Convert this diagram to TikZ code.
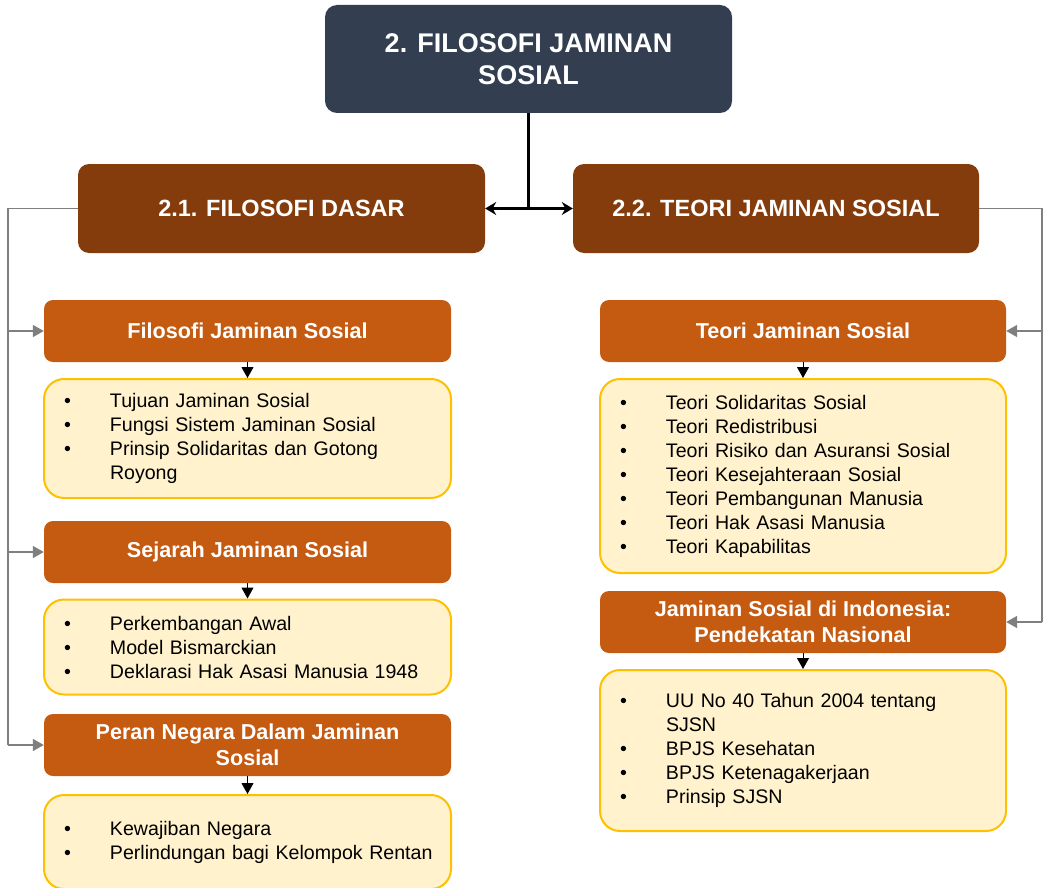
\documentclass[tikz,border=0pt]{standalone}
\usepackage{fontspec}
\setmainfont{Liberation Sans}
\usetikzlibrary{arrows.meta}
\definecolor{topc}{HTML}{333F50}
\definecolor{lvtwo}{HTML}{843C0C}
\definecolor{hdr}{HTML}{C55A11}
\definecolor{boxfill}{HTML}{FFF2CC}
\definecolor{boxline}{HTML}{FFC000}
\definecolor{conn}{HTML}{7F7F7F}
\newcommand{\bul}[1]{\mbox{\makebox[46pt][l]{\textbullet}#1}}
\newcommand{\ind}[1]{\mbox{\hspace*{46pt}#1}}
\begin{document}
\begin{tikzpicture}[x=1pt,y=-1pt,
  topbox/.style={rounded corners=12pt, fill=topc, text=white, align=center,
    minimum width=407pt, minimum height=108pt, inner sep=0pt,
    font=\fontsize{27}{32}\selectfont\bfseries},
  secbox/.style={rounded corners=11pt, fill=lvtwo, text=white, align=center,
    minimum height=89pt, inner sep=0pt,
    font=\fontsize{23.5}{28}\selectfont\bfseries},
  hdrbox/.style={rounded corners=9pt, fill=hdr, text=white, align=center,
    minimum width=407pt, minimum height=62pt, inner sep=0pt,
    font=\fontsize{21.6}{25.5}\selectfont\bfseries},
  listbox/.style={rounded corners=20pt, fill=boxfill, draw=boxline, line width=2pt,
    align=left, text width=367pt, inner xsep=20pt, inner ysep=0pt,
    font=\fontsize{19.6}{24}\selectfont},
  mainarrow/.style={line width=2.6pt, -{Stealth[length=11pt,width=13pt]}},
  mainline/.style={line width=2.6pt},
  sidearrow/.style={conn, line width=1.6pt, -{Triangle[length=11pt,width=12pt]}},
  sideline/.style={conn, line width=1.6pt},
  downarrow/.style={black, line width=1pt, -{Triangle[length=11pt,width=12pt]}}
]
\useasboundingbox (0,0) rectangle (1044,888);

% top
\node[topbox] (top) at (528.5,59) {2. FILOSOFI JAMINAN\\SOSIAL};
\node[secbox, minimum width=407pt] (L) at (281.5,208.5) {2.1. FILOSOFI DASAR};
\node[secbox, minimum width=406pt] (R) at (776,208.5) {2.2. TEORI JAMINAN SOSIAL};

% left column
\node[hdrbox] (h1) at (247.5,331) {Filosofi Jaminan Sosial};
\node[listbox, minimum height=119pt] (b1) at (247.5,438.5)
  {\bul{Tujuan Jaminan Sosial}\\
   \bul{Fungsi Sistem Jaminan Sosial}\\
   \bul{Prinsip Solidaritas dan Gotong}\\
   \ind{Royong}};
\node[hdrbox] (h2) at (247.5,552) {Sejarah Jaminan Sosial};
\node[listbox, minimum height=95pt] (b2) at (247.5,647)
  {\bul{Perkembangan Awal}\\
   \bul{Model Bismarckian}\\
   \bul{Deklarasi Hak Asasi Manusia 1948}};
\node[hdrbox] (h3) at (247.5,745) {Peran Negara Dalam Jaminan\\Sosial};
\node[listbox, minimum height=94pt] (b3) at (247.5,842)
  {\bul{Kewajiban Negara}\\
   \bul{Perlindungan bagi Kelompok Rentan}};

% right column
\node[hdrbox, minimum width=406pt] (r1) at (803,331) {Teori Jaminan Sosial};
\node[listbox, minimum height=194pt, text width=366pt] (rb1) at (803,476)
  {\bul{Teori Solidaritas Sosial}\\
   \bul{Teori Redistribusi}\\
   \bul{Teori Risiko dan Asuransi Sosial}\\
   \bul{Teori Kesejahteraan Sosial}\\
   \bul{Teori Pembangunan Manusia}\\
   \bul{Teori Hak Asasi Manusia}\\
   \bul{Teori Kapabilitas}};
\node[hdrbox, minimum width=406pt] (r2) at (803,622) {Jaminan Sosial di Indonesia:\\Pendekatan Nasional};
\node[listbox, minimum height=161pt, text width=366pt] (rb2) at (803,750.5)
  {\bul{UU No 40 Tahun 2004 tentang}\\
   \ind{SJSN}\\
   \bul{BPJS Kesehatan}\\
   \bul{BPJS Ketenagakerjaan}\\
   \bul{Prinsip SJSN}};

% main connectors
\coordinate (j) at (top.south |- L.east);
\draw[mainline] (top.south) -- (j);
\draw[mainarrow] (j) -- (L.east);
\draw[mainarrow] (j) -- (R.west);

% left side connectors
\coordinate (lb) at (8,745);
\draw[sideline] (L.west) -| (lb);
\draw[sidearrow] (lb |- h1.west) -- (h1.west);
\draw[sidearrow] (lb |- h2.west) -- (h2.west);
\draw[sidearrow] (lb) -- (h3.west);

% right side connectors
\coordinate (rbc) at (1042,622);
\draw[sideline] (R.east) -| (rbc);
\draw[sidearrow] (rbc |- r1.east) -- (r1.east);
\draw[sidearrow] (rbc) -- (r2.east);

% header to list
\draw[downarrow] (h1.south) -- (b1.north);
\draw[downarrow] (h2.south) -- (b2.north);
\draw[downarrow] (h3.south) -- (b3.north);
\draw[downarrow] (r1.south) -- (rb1.north);
\draw[downarrow] (r2.south) -- (rb2.north);
\end{tikzpicture}
\end{document}
